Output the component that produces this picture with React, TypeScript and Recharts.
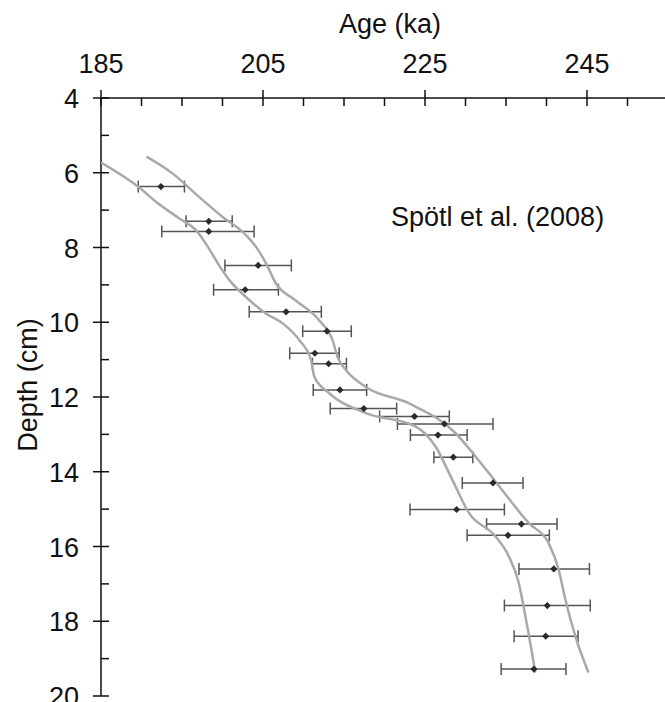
import React from 'react';
import { ScatterChart, Scatter, XAxis, YAxis, ErrorBar } from 'recharts';

// axis ticks
const ageTicks = [185, 190, 195, 200, 205, 210, 215, 220, 225, 230, 235, 240, 245, 250, 255];
const majorAges = [185, 205, 225, 245];
const depthTicks = [4, 5, 6, 7, 8, 9, 10, 11, 12, 13, 14, 15, 16, 17, 18, 19, 20];
const majorDepths = [4, 6, 8, 10, 12, 14, 16, 18, 20];

// dated samples (age in ka, depth in cm, 2σ error bounds)
const sampleAge = [192.4, 198.3, 198.3, 204.4, 202.8, 207.85, 212.9, 211.4, 213.1, 214.5, 217.45, 223.7, 227.4, 226.6, 228.5, 233.4, 228.9, 236.9, 235.25, 240.9, 240.1, 239.9, 238.45];
const sampleDepth = [6.37, 7.3, 7.57, 8.48, 9.13, 9.72, 10.24, 10.83, 11.11, 11.81, 12.31, 12.52, 12.72, 13.02, 13.61, 14.3, 15.01, 15.4, 15.7, 16.6, 17.58, 18.4, 19.28];
const sampleLow = [189.6, 195.5, 192.5, 200.3, 198.9, 203.3, 209.9, 208.3, 211.1, 211.2, 213.3, 219.4, 221.6, 223.2, 226.1, 229.6, 223.15, 232.6, 230.2, 236.6, 234.8, 236.0, 234.4];
const sampleHigh = [195.3, 201.2, 203.9, 208.5, 206.9, 212.2, 215.9, 214.4, 215.3, 217.8, 221.5, 228.0, 233.4, 230.2, 230.9, 237.1, 234.8, 241.3, 240.35, 245.3, 245.4, 243.9, 242.4];

// age model envelope
const lowerAge = [185.0, 189.68, 191.86, 194.72, 196.78, 198.21, 199.44, 200.88, 202.93, 205.39, 207.44, 209.49, 210.93, 211.34, 213.18, 217.7, 223.86, 226.32, 228.36, 230.42, 233.7, 235.34, 236.57, 237.39, 238.62];
const lowerDepth = [5.73, 6.39, 6.79, 7.23, 7.55, 7.99, 8.43, 8.88, 9.33, 9.77, 10.03, 10.48, 11.01, 11.46, 11.9, 12.43, 12.79, 13.33, 14.21, 15.1, 15.73, 16.26, 16.97, 17.86, 19.37];
const upperAge = [190.62, 193.9, 197.18, 200.05, 202.51, 204.16, 205.39, 206.62, 209.0, 211.95, 213.59, 214.21, 215.24, 217.7, 223.03, 228.78, 231.24, 233.7, 237.8, 240.26, 241.49, 242.32, 243.55, 245.18];
const upperDepth = [5.57, 6.03, 6.66, 7.19, 7.59, 7.99, 8.43, 8.97, 9.41, 9.95, 10.48, 10.93, 11.28, 11.73, 12.17, 12.97, 13.59, 14.26, 15.37, 15.91, 16.61, 17.41, 18.39, 19.37];

const samples = sampleAge.map((age, i) => ({
  age,
  depth: sampleDepth[i],
  err: [age - sampleLow[i], sampleHigh[i] - age],
}));
const lowerCurve = lowerAge.map((age, i) => ({ age, depth: lowerDepth[i] }));
const upperCurve = upperAge.map((age, i) => ({ age, depth: upperDepth[i] }));

const FONT = '"Liberation Sans", Arial, sans-serif';

const AgeTick = (props: any) => {
  const { x, y, payload } = props;
  const major = majorAges.includes(payload.value);
  return (
    <g>
      <line x1={x} x2={x} y1={major ? y - 8 : y} y2={y + 8} stroke="#111" strokeWidth={1.5} />
      {major && (
        <text x={x} y={y - 25} textAnchor="middle" fontSize={27} fontFamily={FONT} fill="#111">
          {payload.value}
        </text>
      )}
    </g>
  );
};

const DepthTick = (props: any) => {
  const { x, y, payload } = props;
  const major = majorDepths.includes(payload.value);
  return (
    <g>
      <line x1={major ? x - 8 : x} x2={x + 8} y1={y} y2={y} stroke="#111" strokeWidth={1.5} />
      {major && (
        <text x={x - 22} y={y + 10} textAnchor="end" fontSize={27} fontFamily={FONT} fill="#111">
          {payload.value}
        </text>
      )}
    </g>
  );
};

const Marker = (props: any) => {
  const { cx, cy } = props;
  const r = 3.6;
  return <path d={`M${cx},${cy - r}L${cx + r},${cy}L${cx},${cy + r}L${cx - r},${cy}Z`} fill="#2b2b2b" />;
};

const NoShape = () => <g />;

export default function App() {
  return (
    <div style={{ position: 'absolute', left: 0, top: 0, width: 665, height: 702, overflow: 'hidden', background: '#fff' }}>
      <ScatterChart width={670} height={702} margin={{ top: 0, right: 2, bottom: 6, left: 0 }}>
        <XAxis
          dataKey="age"
          type="number"
          orientation="top"
          domain={[185, 255]}
          ticks={ageTicks}
          interval={0}
          height={98}
          tickSize={0}
          tickMargin={0}
          tickLine={false}
          axisLine={{ stroke: '#111', strokeWidth: 1.5 }}
          tick={<AgeTick />}
          allowDataOverflow
        />
        <YAxis
          dataKey="depth"
          type="number"
          reversed
          domain={[4, 20]}
          ticks={depthTicks}
          interval={0}
          width={101}
          tickSize={0}
          tickMargin={0}
          tickLine={false}
          axisLine={{ stroke: '#111', strokeWidth: 1.5 }}
          tick={<DepthTick />}
          allowDataOverflow
        />
        <Scatter
          data={lowerCurve}
          line={{ stroke: '#a9a9a9', strokeWidth: 2.5 }}
          lineJointType="monotoneX"
          shape={<NoShape />}
          isAnimationActive={false}
        />
        <Scatter
          data={upperCurve}
          line={{ stroke: '#a9a9a9', strokeWidth: 2.5 }}
          lineJointType="monotoneX"
          shape={<NoShape />}
          isAnimationActive={false}
        />
        <Scatter data={samples} shape={<Marker />} isAnimationActive={false}>
          <ErrorBar dataKey="err" direction="x" width={6} stroke="#555" strokeWidth={1.5} isAnimationActive={false} />
        </Scatter>
      </ScatterChart>
      <svg width={665} height={702} style={{ position: 'absolute', left: 0, top: 0, pointerEvents: 'none' }}>
        <text x={390} y={33} textAnchor="middle" fontSize={27} fontFamily={FONT} fill="#111">
          Age (ka)
        </text>
        <text x={37} y={385} transform="rotate(-90 37 385)" textAnchor="middle" fontSize={27} fontFamily={FONT} fill="#111">
          Depth (cm)
        </text>
        <text x={391} y={226} fontSize={27} fontFamily={FONT} fill="#111">
          Spötl et al. (2008)
        </text>
      </svg>
    </div>
  );
}
